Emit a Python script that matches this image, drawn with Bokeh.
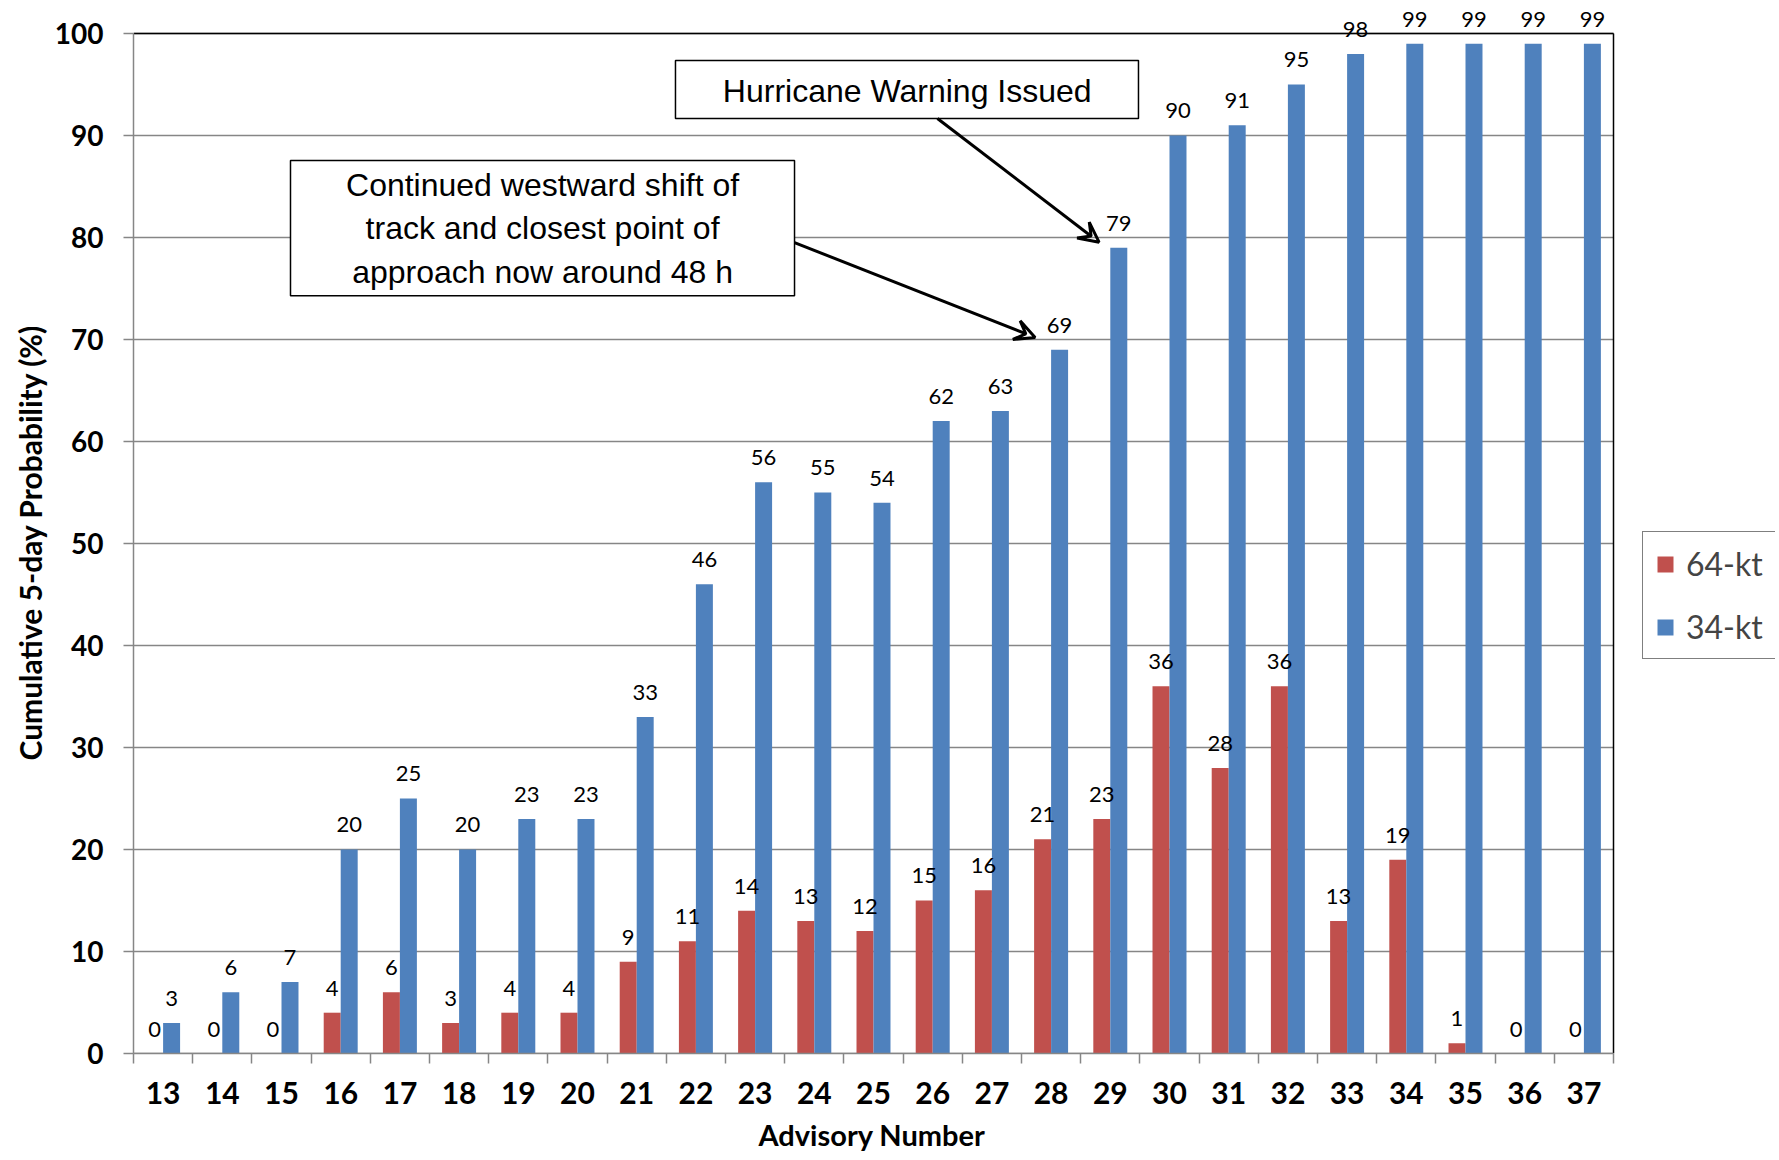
from bokeh.plotting import figure
from bokeh.models import (ColumnDataSource, FixedTicker, LabelSet, Legend, LegendItem,
                          BoxAnnotation, Label, Arrow, VeeHead, Range1d, Title)
from bokeh.core.properties import value
from bokeh.embed import file_html
from bokeh.resources import INLINE

# ---------------- data ----------------
advisories = ["13", "14", "15", "16", "17", "18", "19", "20", "21", "22", "23", "24", "25",
              "26", "27", "28", "29", "30", "31", "32", "33", "34", "35", "36", "37"]
kt64 = [0, 0, 0, 4, 6, 3, 4, 4, 9, 11, 14, 13, 12, 15, 16, 21, 23, 36, 28, 36, 13, 19, 1, 0, 0]
kt34 = [3, 6, 7, 20, 25, 20, 23, 23, 33, 46, 56, 55, 54, 62, 63, 69, 79, 90, 91, 95, 98, 99, 99, 99, 99]
y_ticks = [0, 10, 20, 30, 40, 50, 60, 70, 80, 90, 100]
series_names = ["64-kt", "34-kt"]

RED = "#C0504D"
BLUE = "#4F81BD"
GRID = "#868686"

n = len(advisories)
centers = [i + 0.5 for i in range(n)]
boundaries = [float(i) for i in range(n + 1)]
BW = 0.287
x64 = [c - BW / 2 for c in centers]
x34 = [c + BW / 2 for c in centers]

src64 = ColumnDataSource(dict(x=x64, y=kt64, lab=[str(v) for v in kt64]))
src34 = ColumnDataSource(dict(x=x34, y=kt34, lab=[str(v) for v in kt34]))

Y_TOP = y_ticks[-1]
W, H = 1775, 1160
LEFT, TOP, BOTTOM = 133, 8, 107
PX_PER_CAT = 59.2
X_MAX = (W - LEFT) / PX_PER_CAT

p = figure(width=W, height=H, x_range=Range1d(0, X_MAX), y_range=Range1d(0, Y_TOP + 2.45),
           output_backend="svg", toolbar_location=None,
           min_border_left=LEFT, min_border_right=0, min_border_top=TOP, min_border_bottom=BOTTOM)

p.background_fill_color = "white"
p.border_fill_color = "white"
p.outline_line_color = None
p.xgrid.grid_line_color = None
p.ygrid.grid_line_color = None

# horizontal gridlines, limited to the plot area
gsrc = ColumnDataSource(dict(y=y_ticks, x0=[0] * len(y_ticks), x1=[n] * len(y_ticks)))
p.segment(x0="x0", y0="y", x1="x1", y1="y", source=gsrc, line_color=GRID, line_width=1.5)

r64 = p.vbar(x="x", top="y", bottom=0, width=BW, source=src64, fill_color=RED, line_color=None)
r34 = p.vbar(x="x", top="y", bottom=0, width=BW, source=src34, fill_color=BLUE, line_color=None)

# plot-area border (top and right in black)
p.segment(x0=[0, n], y0=[Y_TOP, 0], x1=[n, n], y1=[Y_TOP, Y_TOP], line_color="black", line_width=1.5)

# y axis
p.yaxis.ticker = FixedTicker(ticks=y_ticks)
p.yaxis.bounds = (0, Y_TOP)
p.yaxis.major_label_text_font = "Lato"
p.yaxis.major_label_text_font_style = "bold"
p.yaxis.major_label_text_font_size = "28px"
p.yaxis.major_label_text_color = "black"
p.yaxis.major_label_standoff = 20
p.yaxis.major_tick_out = 10
p.yaxis.major_tick_in = 0
p.yaxis.minor_tick_line_color = None
p.yaxis.axis_line_color = GRID
p.yaxis.axis_line_width = 1.5
p.yaxis.major_tick_line_color = GRID
p.yaxis.major_tick_line_width = 1.5

# x axis
p.xaxis.ticker = FixedTicker(ticks=centers, minor_ticks=boundaries)
p.xaxis.bounds = (0, n)
p.xaxis.major_label_overrides = {c: lab for c, lab in zip(centers, advisories)}
p.xaxis.major_label_text_font = "Lato"
p.xaxis.major_label_text_font_style = "bold"
p.xaxis.major_label_text_font_size = "30px"
p.xaxis.major_label_text_color = "black"
p.xaxis.major_label_standoff = 18
p.xaxis.major_tick_line_color = None
p.xaxis.major_tick_out = 10
p.xaxis.major_tick_in = 0
p.xaxis.minor_tick_out = 10
p.xaxis.minor_tick_in = 0
p.xaxis.minor_tick_line_color = GRID
p.xaxis.minor_tick_line_width = 1.5
p.xaxis.axis_line_color = GRID
p.xaxis.axis_line_width = 1.5

# axis titles (placed relative to the plot area, not the extended frame)
p.add_layout(Title(text="Advisory Number", align="left", offset=625, text_font="Lato",
                   text_font_style="bold", text_font_size="29px", text_color="black",
                   standoff=16), "below")
p.add_layout(Title(text="Cumulative 5-day Probability (%)", align="left", offset=293,
                   text_font="Lato", text_font_style="bold", text_font_size="30px",
                   text_color="black", standoff=8), "left")

# data labels
for src in (src64, src34):
    p.add_layout(LabelSet(x="x", y="y", text="lab", source=src, text_align="center",
                          text_baseline="alphabetic", y_offset=17, text_font=value("Lato"),
                          text_font_size=value("22px"), text_color="black"))

# annotation boxes
p.add_layout(BoxAnnotation(left=2.652, right=11.166, top=87.55, bottom=74.3,
                           fill_color="white", fill_alpha=1, line_color="black",
                           line_width=1.5, line_alpha=1))
p.add_layout(Label(x=6.91, y=80.9,
                   text="Continued westward shift of\ntrack and closest point of\napproach now around 48 h",
                   text_align="center", text_baseline="middle", text_font="Liberation Sans",
                   text_font_size="32px", text_line_height=1.2, text_color="black"))
p.add_layout(BoxAnnotation(left=9.155, right=16.976, top=97.35, bottom=91.67,
                           fill_color="white", fill_alpha=1, line_color="black",
                           line_width=1.5, line_alpha=1))
p.add_layout(Label(x=13.07, y=94.4, text="Hurricane Warning Issued",
                   text_align="center", text_baseline="middle", text_font="Liberation Sans",
                   text_font_size="32px", text_color="black"))

p.add_layout(Arrow(end=VeeHead(size=20, line_width=3, line_color="black", fill_color=None),
                   x_start=11.166, y_start=79.5, x_end=15.23, y_end=70.2,
                   line_width=3, line_color="black"))
p.add_layout(Arrow(end=VeeHead(size=20, line_width=3, line_color="black", fill_color=None),
                   x_start=13.58, y_start=91.67, x_end=16.31, y_end=79.54,
                   line_width=3, line_color="black"))

# legend (inside the frame, which extends to the right of the plot area)
legend = Legend(items=[LegendItem(label=series_names[0], renderers=[r64]),
                       LegendItem(label=series_names[1], renderers=[r34])],
                location=(1509, 394), orientation="vertical",
                label_text_font="Lato", label_text_font_size="32px",
                glyph_width=20, glyph_height=20, label_standoff=11,
                padding=12, spacing=24, margin=0,
                border_line_color="black", border_line_width=1.5,
                background_fill_color="white", background_fill_alpha=1)
p.add_layout(legend)

open("out.html", "w").write(file_html(p, INLINE))
